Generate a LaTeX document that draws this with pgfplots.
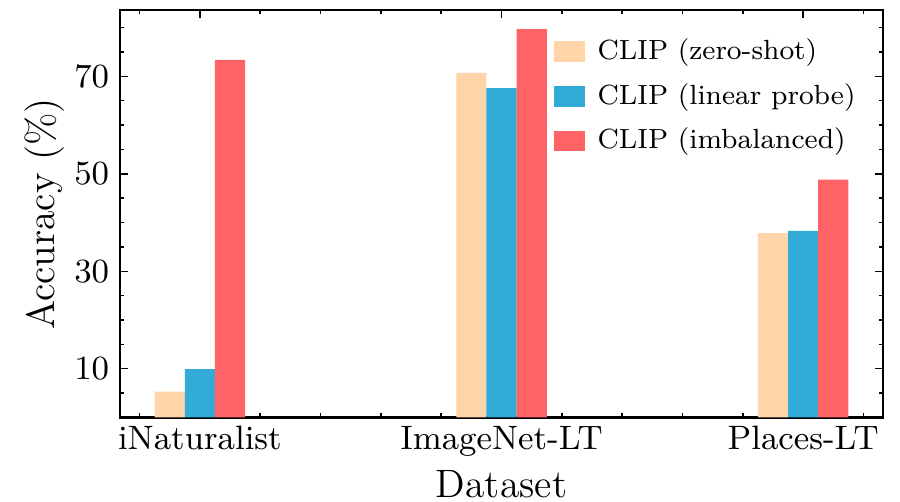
\documentclass[border=0pt]{standalone}
\usepackage{fontspec}
\usepackage{pgfplots}
\pgfplotsset{compat=1.18}
\definecolor{cpeach}{RGB}{254,212,168}
\definecolor{cblue}{RGB}{50,172,214}
\definecolor{cred}{RGB}{255,99,102}
\begin{document}
\begin{tikzpicture}
\begin{axis}[
  scale only axis,
  width=211.9pt, height=113.1pt,
  xmin=-0.265, xmax=2.265,
  ymin=0, ymax=83.6,
  xtick={0,1,2},
  xticklabels={iNaturalist,ImageNet-LT,Places-LT},
  minor xtick={-0.2,0.2,0.4,0.6,0.8,1.2,1.4,1.6,1.8,2.2},
  ytick={10,30,50,70},
  minor ytick={5,15,20,25,35,40,45,55,60,65,75,80},
  tick align=inside,
  xtick pos=both, ytick pos=both,
  major tick length=2.2pt, minor tick length=1.2pt,
  every tick/.style={black, line width=0.4pt},
  axis line style={black, line width=0.6pt},
  /pgf/number format/assume math mode=true,
  tick label style={font=\fontsize{9.4}{11}\selectfont, inner sep=0pt},
  xticklabel style={anchor=north, yshift=-2.2pt},
  yticklabel style={anchor=east, xshift=-2.8pt},
  xlabel={Dataset},
  ylabel={Accuracy (\%)},
  every axis x label/.style={at={(rel axis cs:0.5,0)}, anchor=north, yshift=-14.6pt, inner sep=0pt, font=\fontsize{11}{13}\selectfont},
  every axis y label/.style={at={(rel axis cs:0,0.5)}, rotate=90, anchor=south, yshift=15.3pt, inner sep=0pt, font=\fontsize{11}{13}\selectfont},
  legend style={draw=none, fill=none, at={(rel axis cs:0.568,0.949)}, anchor=north west,
    font=\fontsize{7.7}{9}\selectfont, row sep=1.1pt, inner sep=0pt,
    nodes={inner xsep=3.5pt}},
  legend cell align=left,
  legend image code/.code={\fill[#1] (0pt,-2.9pt) rectangle (8.6pt,2.9pt);},
]
\addplot[ybar, bar width=0.1, bar shift=-0.1, fill=cpeach, draw=none]
  coordinates {(0,5.3) (1,70.7) (2,37.8)};
\addlegendentry{CLIP (zero-shot)}
\addplot[ybar, bar width=0.1, bar shift=0, fill=cblue, draw=none]
  coordinates {(0,9.9) (1,67.6) (2,38.3)};
\addlegendentry{CLIP (linear probe)}
\addplot[ybar, bar width=0.1, bar shift=0.1, fill=cred, draw=none]
  coordinates {(0,73.4) (1,79.7) (2,48.8)};
\addlegendentry{CLIP (imbalanced)}
\coordinate (bl) at (rel axis cs:0,0);
\coordinate (tr) at (rel axis cs:1,1);
\end{axis}
\pgfresetboundingbox
\path ([xshift=-33.3pt,yshift=-23.3pt]bl) rectangle ([xshift=4.7pt,yshift=2.8pt]tr);
\end{tikzpicture}
\end{document}
